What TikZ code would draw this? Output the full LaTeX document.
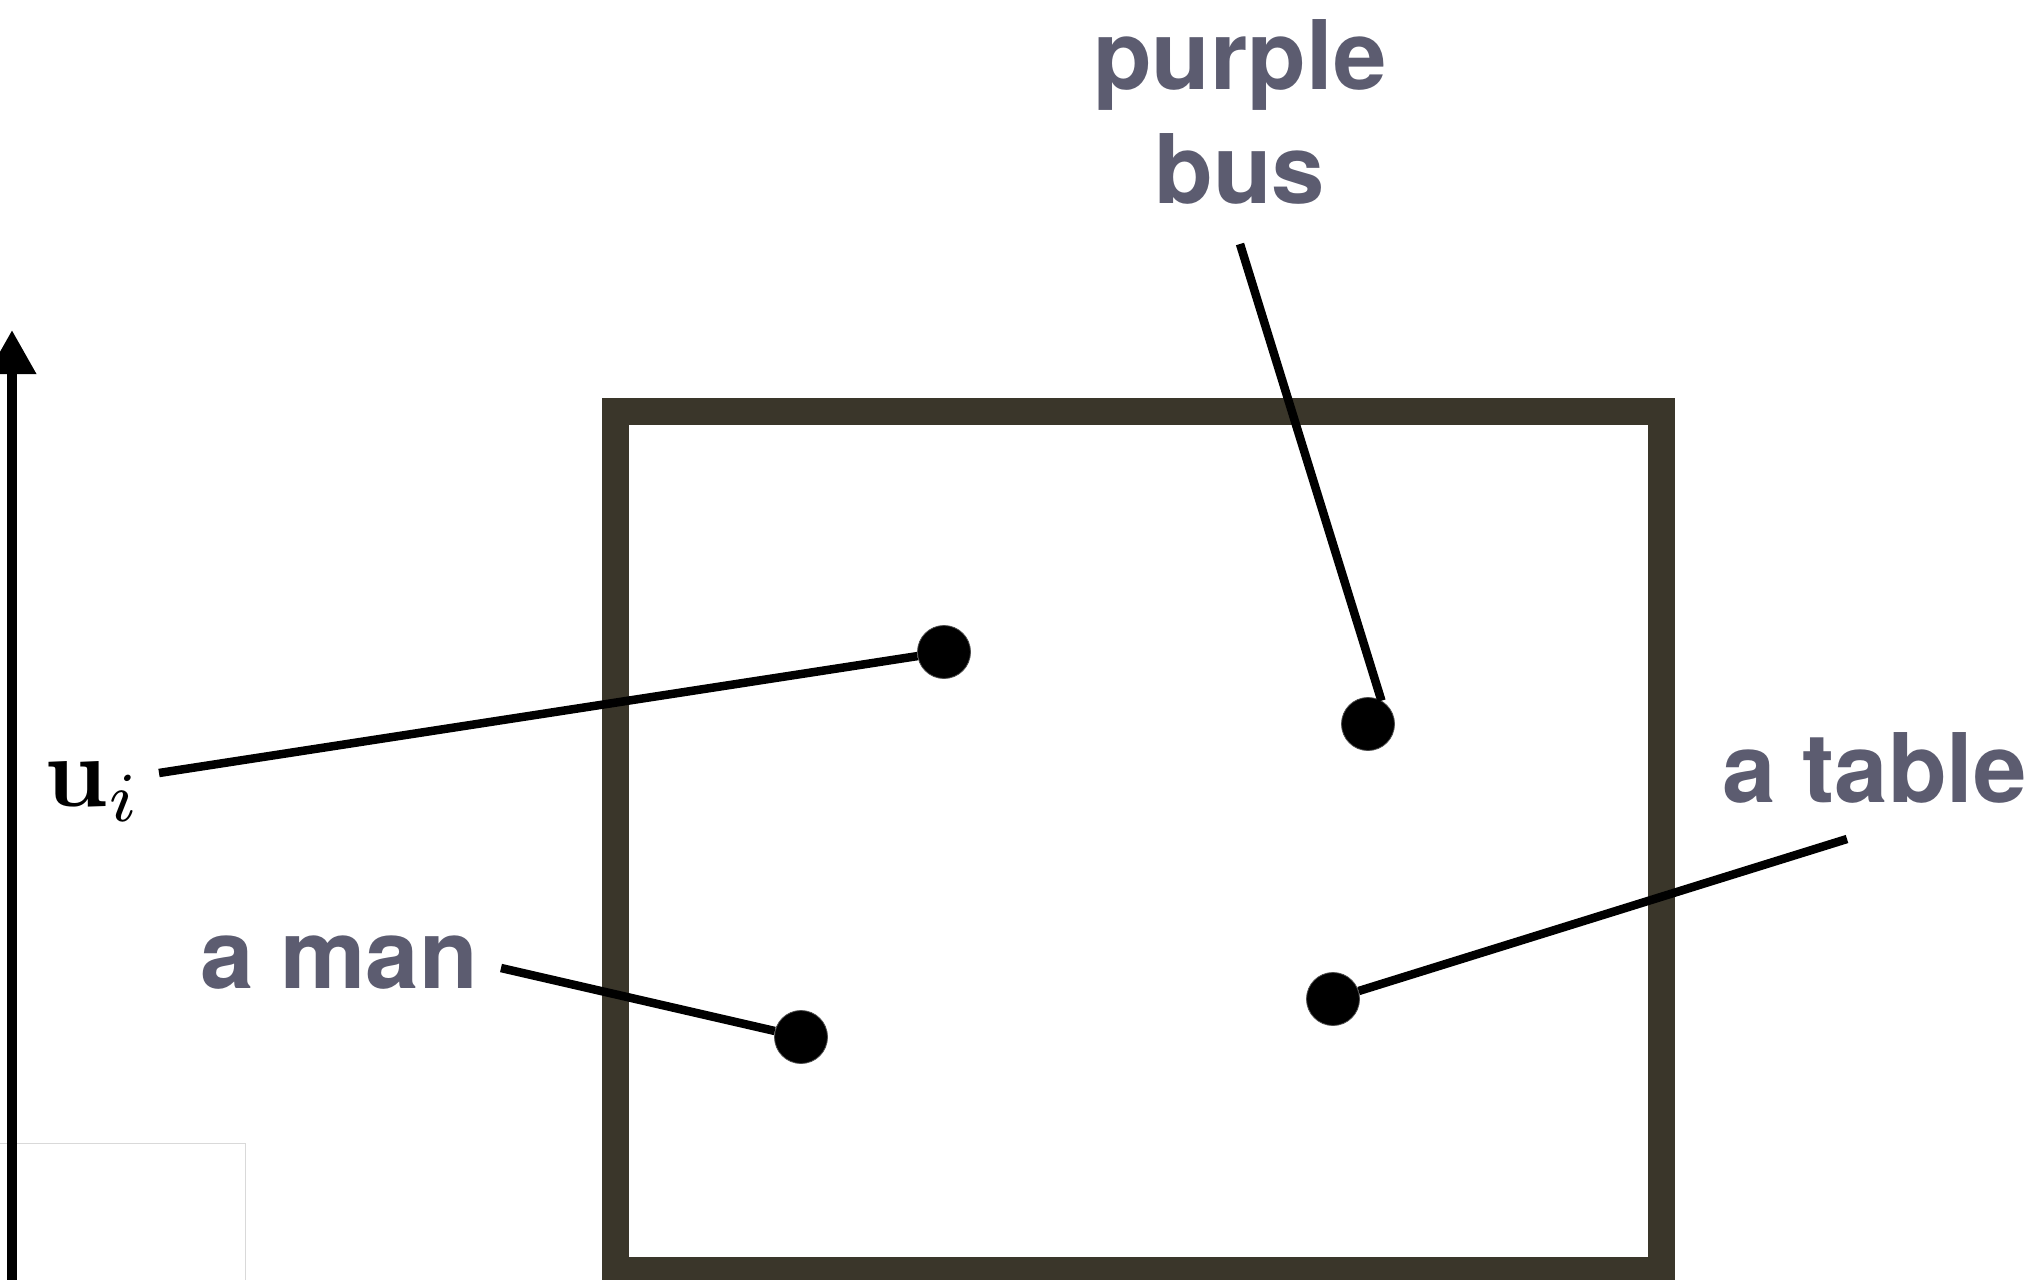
\documentclass[tikz,border=0pt]{standalone}
\usepackage[no-math]{fontspec}
\usepackage{amsmath}
\usepackage{graphicx}
\usepackage{tikz}
\usetikzlibrary{arrows.meta}
\newfontfamily\labelfont{TeX Gyre Heros}
\definecolor{labelgray}{RGB}{92,92,112}
\definecolor{framebrown}{RGB}{58,54,42}

\begin{document}
\begin{tikzpicture}[x=0.5pt, y=-0.5pt,
    objlabel/.style={inner sep=0pt, text=labelgray, font=\labelfont\bfseries\fontsize{48}{57}\selectfont},
    objdot/.style={circle, fill=black, draw=black!70, line width=0.4pt, inner sep=0pt, minimum size=26.5pt},
    pointer/.style={line width=4.25pt}]
    \useasboundingbox (0,0) rectangle (2030,1280);

    % Corner of another panel
    \draw[black!15, fill=white] (-20,1143) rectangle (245,1300);

    % Vertical axis
    \draw[line width=5pt, -{Triangle[length=22pt, width=23pt]}] (12,1290) -- (12,330);

    % Image frame
    \draw[framebrown, line width=13.5pt] (615.5,411.5) rectangle (1661.5,1270.5);

    % Labels
    \node[inner sep=0pt, anchor=base west] (ulabel) at (44,806) {\scalebox{5}{$\mathbf{u}_i$}};
    \node[objlabel, anchor=north, align=center] (buslabel) at (1240,19) {purple\\bus};
    \node[objlabel, anchor=base west] (manlabel) at (200,988) {a man};
    \node[objlabel, anchor=base west] (tablelabel) at (1722,802) {a table};

    % Points
    \node[objdot] (udot) at (944,652) {};
    \node[objdot] (busdot) at (1368,724) {};
    \node[objdot] (mandot) at (801,1037) {};
    \node[objdot] (tabledot) at (1333,999) {};

    % Pointer lines
    \coordinate (ustart) at (159,773);
    \coordinate (busstart) at (1240,244);
    \coordinate (manstart) at (501,968);
    \coordinate (tablestart) at (1847,839);
    \draw[pointer] (ustart) -- (udot);
    \draw[pointer] (busstart) -- (busdot.60);
    \draw[pointer] (manstart) -- (mandot);
    \draw[pointer] (tablestart) -- (tabledot);
\end{tikzpicture}
\end{document}
